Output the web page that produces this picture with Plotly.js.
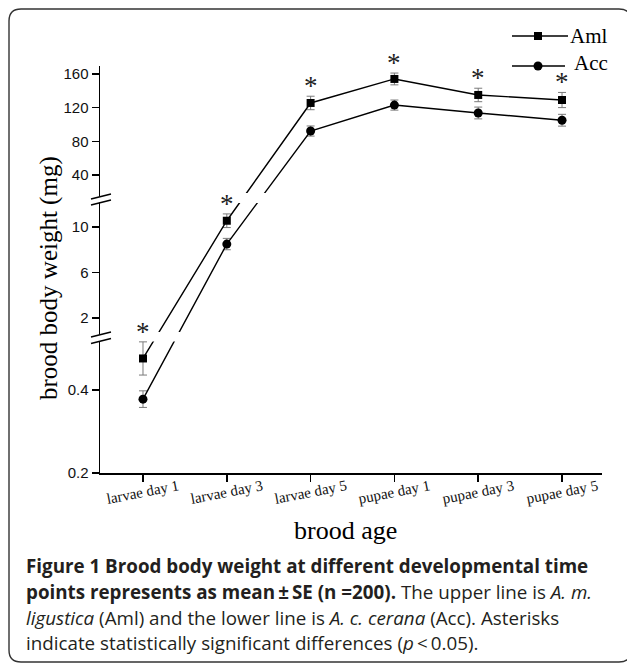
<!DOCTYPE html>
<html>
<head>
<meta charset="utf-8">
<script src="https://cdn.plot.ly/plotly-3.0.1.min.js"></script>
<style>
html,body{margin:0;padding:0;background:#fff;}
#chart{width:627px;height:664px;}
</style>
</head>
<body>
<div id="chart"></div>
<script>
// ---- data ----
const categories = ['larvae day 1','larvae day 3','larvae day 5','pupae day 1','pupae day 3','pupae day 5'];
const amlMean = [0.476, 10.55, 125.5, 154, 135, 129];
const amlSE   = [0.04, 0.6, 8, 7, 8, 9];
const accMean = [0.378, 8.5, 92.2, 123, 113.6, 105];
const accSE   = [0.02, 0.5, 6, 6, 7, 7];
const significant = [true, true, true, true, true, true];
const yTickValues = [0.2, 0.4, 2, 6, 10, 40, 80, 120, 160];
const yTickLabels = ['0.2', '0.4', '2', '6', '10', '40', '80', '120', '160'];
const seriesNames = ['Aml', 'Acc'];

// ---- broken-axis transform (three linear segments) ----
function brk(v){
  if (v <= 1) return (v - 0.2) * 415;          // 0.2 .. ~0.52
  if (v <= 20) return 155 + (v - 2) * 11.375;  // ~0.5 .. ~12
  return 298 + (v - 40) * 0.8425;              // ~18 .. ~170
}

// plot-area geometry in pixels
const L = 100, R = 602, T = 66, B = 473, W = R - L, H = B - T;
const px = x => (x - L) / W;
const py = y => (B - y) / H;

function errUp(m, s){ return m.map((v,i) => brk(v + s[i]) - brk(v)); }
function errDn(m, s){ return m.map((v,i) => brk(v) - brk(v - s[i])); }

const traces = [
  {
    x: categories, y: accMean.map(brk), name: seriesNames[1], type: 'scatter', mode: 'lines+markers',
    line: {color: '#000', width: 1.4},
    marker: {symbol: 'circle', size: 9, color: '#000'},
    error_y: {type: 'data', symmetric: false, array: errUp(accMean, accSE), arrayminus: errDn(accMean, accSE),
              color: '#7a7a7a', thickness: 1, width: 4},
    showlegend: false, hoverinfo: 'skip'
  },
  {
    x: categories, y: amlMean.map(brk), name: seriesNames[0], type: 'scatter', mode: 'lines+markers',
    line: {color: '#000', width: 1.4},
    marker: {symbol: 'square', size: 8, color: '#000'},
    error_y: {type: 'data', symmetric: false, array: errUp(amlMean, amlSE), arrayminus: errDn(amlMean, amlSE),
              color: '#7a7a7a', thickness: 1, width: 4},
    showlegend: false, hoverinfo: 'skip'
  }
];

const shapes = [];
// gaps in data lines where they cross the axis breaks
shapes.push({type:'rect', xref:'x', yref:'y', x0:0.07, x1:0.93, y0:131.5, y1:141, fillcolor:'#fff', line:{width:0}, layer:'above'});
shapes.push({type:'rect', xref:'x', yref:'y', x0:1.07, x1:1.93, y0:270, y1:280, fillcolor:'#fff', line:{width:0}, layer:'above'});
// axis break gaps + slashes
function axisBreak(yA, yB){
  shapes.push({type:'rect', xref:'paper', yref:'paper', x0:px(94), x1:px(108), y0:py(yB), y1:py(yA), fillcolor:'#fff', line:{width:0}, layer:'above'});
  [yA, yB].forEach(y => {
    shapes.push({type:'line', xref:'paper', yref:'paper', x0:px(91), y0:py(y + 2.5), x1:px(111), y1:py(y - 2.5), line:{color:'#000', width:1.4}, layer:'above'});
  });
}
axisBreak(196.5, 202.5);
axisBreak(334.5, 341);

// legend (drawn by hand to match the reference)
shapes.push({type:'line', xref:'paper', yref:'paper', x0:px(512), x1:px(568), y0:py(36), y1:py(36), line:{color:'#000', width:1.4}});
shapes.push({type:'rect', xref:'paper', yref:'paper', x0:px(534), x1:px(542), y0:py(40), y1:py(32), fillcolor:'#000', line:{width:0}});
shapes.push({type:'line', xref:'paper', yref:'paper', x0:px(512), x1:px(565), y0:py(66), y1:py(66), line:{color:'#000', width:1.4}});
shapes.push({type:'circle', xref:'paper', yref:'paper', x0:px(533.5), x1:px(542.5), y0:py(70.5), y1:py(61.5), fillcolor:'#000', line:{width:0}});

// rounded border
(function(){
  const l=9, t=9, r=631, b=662, rad=12;
  const P = (x,y) => px(x) + ',' + py(y);
  const path = 'M' + P(l, t+rad) + ' Q' + P(l, t) + ' ' + P(l+rad, t) +
               ' L' + P(r-rad, t) + ' Q' + P(r, t) + ' ' + P(r, t+rad) +
               ' L' + P(r, b-rad) + ' Q' + P(r, b) + ' ' + P(r-rad, b) +
               ' L' + P(l+rad, b) + ' Q' + P(l, b) + ' ' + P(l, b-rad) + ' Z';
  shapes.push({type:'path', xref:'paper', yref:'paper', path: path, line:{color:'#333', width:1.4}, fillcolor:'rgba(0,0,0,0)'});
})();

const annotations = [];
// x tick labels, slightly rotated
categories.forEach(c => annotations.push({
  x: c, xref: 'x', y: py(492), yref: 'paper', text: c, showarrow: false, textangle: -11,
  xanchor: 'center', yanchor: 'middle', font: {family: 'Liberation Serif', size: 15, color: '#111'}
}));
// significance asterisks
categories.forEach((c, i) => { if (significant[i]) annotations.push({
  x: c, xref: 'x', y: brk(amlMean[i] + amlSE[i]), yref: 'y', text: '*', showarrow: false,
  xanchor: 'center', yanchor: 'middle', yshift: 10, font: {family: 'Liberation Serif', size: 27, color: '#222'}
}); });
// axis titles
annotations.push({x: px(49), y: py(278), xref: 'paper', yref: 'paper', text: 'brood body weight (mg)', textangle: -90,
  showarrow: false, xanchor: 'center', yanchor: 'middle', font: {family: 'Liberation Serif', size: 25, color: '#000'}});
annotations.push({x: px(345), y: py(530), xref: 'paper', yref: 'paper', text: 'brood age',
  showarrow: false, xanchor: 'center', yanchor: 'middle', font: {family: 'Liberation Serif', size: 26, color: '#000'}});
// legend texts
annotations.push({x: px(568), y: py(36), xref: 'paper', yref: 'paper', text: seriesNames[0], showarrow: false,
  xanchor: 'left', yanchor: 'middle', font: {family: 'Liberation Serif', size: 21, color: '#000'}});
annotations.push({x: px(572), y: py(63), xref: 'paper', yref: 'paper', text: seriesNames[1], showarrow: false,
  xanchor: 'left', yanchor: 'middle', font: {family: 'Liberation Serif', size: 21, color: '#000'}});
// caption
const captionLines = [
  '<b>Figure 1 Brood body weight at different developmental time</b>',
  '<b>points represents as mean\u2009\u00b1\u2009SE (n =200).</b> The upper line is <i>A. m.</i>',
  '<i>ligustica</i> (Aml) and the lower line is <i>A. c. cerana</i> (Acc). Asterisks',
  'indicate statistically significant differences (<i>p</i>\u2009&lt;\u20090.05).'
];
const captionY = [566, 592, 618, 643];
captionLines.forEach((t, i) => annotations.push({
  x: px(24), y: py(captionY[i]), xref: 'paper', yref: 'paper', text: t, showarrow: false,
  xanchor: 'left', yanchor: 'middle', font: {family: 'Open Sans', size: 18.8, color: '#231f20'}
}));

const layout = {
  width: 627, height: 664,
  margin: {l: L, r: 627 - R, t: T, b: 664 - B, pad: 0},
  paper_bgcolor: '#fff', plot_bgcolor: '#fff',
  showlegend: false,
  xaxis: {
    type: 'category', range: [-0.513, 5.477], showline: true, linecolor: '#000', linewidth: 1.5,
    ticks: 'outside', ticklen: 7, tickwidth: 1.5, tickcolor: '#000', showticklabels: false,
    showgrid: false, zeroline: false, fixedrange: true
  },
  yaxis: {
    range: [0, H], showline: true, linecolor: '#000', linewidth: 1.5,
    ticks: 'outside', ticklen: 7, tickwidth: 1.5, tickcolor: '#000',
    tickmode: 'array', tickvals: yTickValues.map(brk), ticktext: yTickLabels,
    tickfont: {family: 'Liberation Sans', size: 15, color: '#111'},
    showgrid: false, zeroline: false, fixedrange: true
  },
  shapes: shapes,
  annotations: annotations
};

Plotly.newPlot('chart', traces, layout, {staticPlot: true, displayModeBar: false});
</script>
</body>
</html>
